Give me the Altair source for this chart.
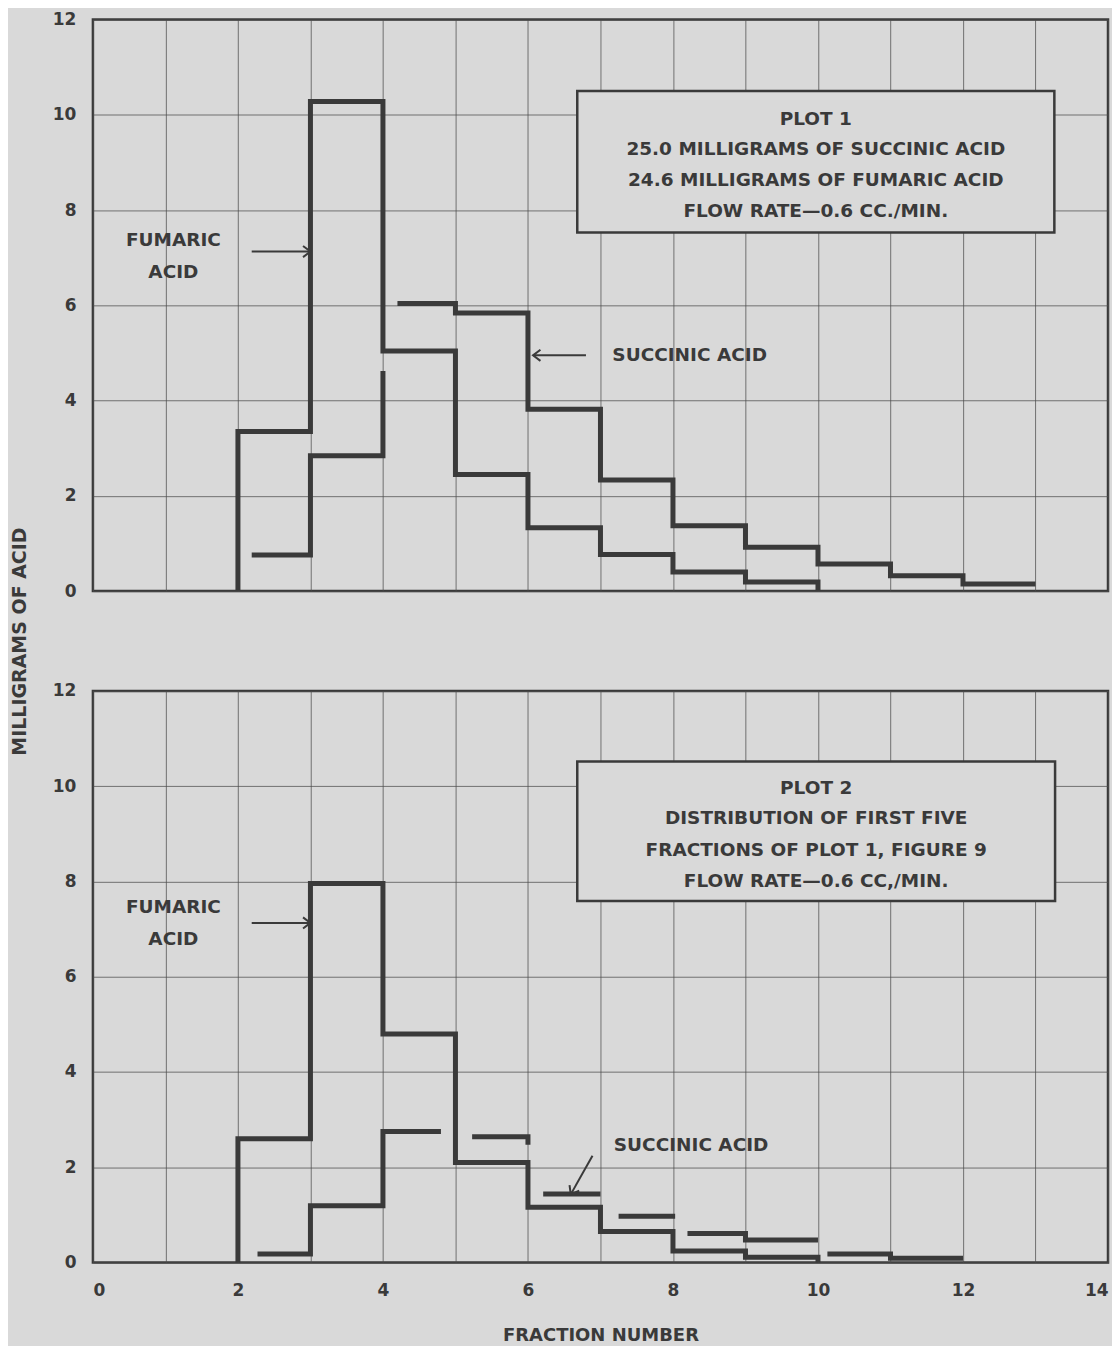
import math
import altair as alt
import pandas as pd

# ---------------- data ----------------
X_GRID_VALUES = list(range(0, 15))
Y_TICK_VALUES = [0, 2, 4, 6, 8, 10, 12]

# Plot 1 -- fumaric acid (fraction edges / mg per fraction)
P1_FUM_EDGES = [2, 3, 4, 5, 6, 7, 8, 9, 10]
P1_FUM_VALS = [3.35, 10.28, 5.04, 2.45, 1.33, 0.77, 0.40, 0.19]
# Plot 1 -- succinic acid, drawn in two pieces
P1_SUC_A_EDGES = [2.19, 3, 4]
P1_SUC_A_VALS = [0.76, 2.84]
P1_SUC_A_TAIL = 4.62
P1_SUC_B_EDGES = [4.2, 5, 6, 7, 8, 9, 10, 11, 12, 13]
P1_SUC_B_VALS = [6.04, 5.84, 3.82, 2.33, 1.37, 0.92, 0.57, 0.32, 0.15]

# Plot 2 -- fumaric acid
P2_FUM_EDGES = [2, 3, 4, 5, 6, 7, 8, 9, 10]
P2_FUM_VALS = [2.60, 7.96, 4.80, 2.10, 1.16, 0.65, 0.24, 0.11]
# Plot 2 -- succinic acid, broken pieces
P2_SUC_PIECE_EDGES = [[2.27, 3, 4, 4.8], [5.23, 6], [6.21, 7.0], [7.25, 8.03],
                      [8.2, 9, 10], [10.13, 11, 12]]
P2_SUC_PIECE_VALS = [[0.18, 1.19, 2.75], [2.64], [1.44], [0.97],
                     [0.61, 0.47], [0.18, 0.09]]
P2_SUC_PIECE_TAILS = [None, 2.47, None, None, None, None]

# Text
P1_BOX_LINES = ["PLOT 1", "25.0 MILLIGRAMS OF SUCCINIC ACID",
                "24.6 MILLIGRAMS OF FUMARIC ACID", "FLOW RATE—0.6 CC./MIN."]
P2_BOX_LINES = ["PLOT 2", "DISTRIBUTION OF FIRST FIVE",
                "FRACTIONS OF PLOT 1, FIGURE 9", "FLOW RATE—0.6 CC,/MIN."]
P1_BOX_LINE_Y = [9.92, 9.29, 8.64, 7.99]
P2_BOX_LINE_Y = [9.96, 9.33, 8.66, 8.01]
P1_BOX = dict(x=6.68, x2=13.26, y=7.53, y2=10.5)
P2_BOX = dict(x=6.68, x2=13.27, y=7.59, y2=10.52)

FUM_LABEL = ["FUMARIC", "ACID"]
FUM_LABEL_X = 1.11
P1_FUM_LABEL_Y = [7.38, 6.71]
P2_FUM_LABEL_Y = [7.46, 6.79]
SUC_LABEL = "SUCCINIC ACID"
P1_SUC_LABEL_XY = (8.23, 4.95)
P2_SUC_LABEL_XY = (8.25, 2.47)

# arrows: (x_from, y_from, x_to, y_to)
P1_ARROWS = [(2.19, 7.13, 3.0, 7.13), (6.80, 4.95, 6.07, 4.95)]
P2_ARROWS = [(2.19, 7.13, 3.0, 7.13), (6.89, 2.24, 6.59, 1.43)]

# ---------------- styling ----------------
BG = "#d9d9d9"
INK = "#3a3a3a"
FONT = "DejaVu Sans"
PW, PH = 1016, 572
XDOM, YDOM = [0, 14], [0, 12]


def steps(edges, vals, head=None, tail=None):
    pts = []
    if head is not None:
        pts.append((edges[0], head))
    for i, v in enumerate(vals):
        pts.append((edges[i], v))
        pts.append((edges[i + 1], v))
    if tail is not None:
        pts.append((edges[-1], tail))
    return pts


def line_frame(pieces):
    rows = []
    for pid, pts in enumerate(pieces):
        for k, (x, y) in enumerate(pts):
            rows.append({"piece": pid, "order": k, "x": x, "y": y})
    return pd.DataFrame(rows)


p1_lines = line_frame([
    steps(P1_FUM_EDGES, P1_FUM_VALS, head=0, tail=0),
    steps(P1_SUC_A_EDGES, P1_SUC_A_VALS, tail=P1_SUC_A_TAIL),
    steps(P1_SUC_B_EDGES, P1_SUC_B_VALS),
])
p2_pieces = [steps(P2_FUM_EDGES, P2_FUM_VALS, head=0, tail=0)]
for e, v, t in zip(P2_SUC_PIECE_EDGES, P2_SUC_PIECE_VALS, P2_SUC_PIECE_TAILS):
    p2_pieces.append(steps(e, v, tail=t))
p2_lines = line_frame(p2_pieces)

xs = alt.Scale(domain=XDOM, nice=False, zero=False)
ys = alt.Scale(domain=YDOM, nice=False, zero=False)

PX_PER_X = PW / (XDOM[1] - XDOM[0])
PX_PER_Y = PH / (YDOM[1] - YDOM[0])


def panel(lines, box, box_lines, box_y, fum_y, suc_xy, arrows, bottom):
    x_axis = alt.Axis(values=X_GRID_VALUES, grid=True, ticks=False, domain=False,
                      labels=bottom,
                      labelExpr="datum.value % 2 == 0 ? datum.label : ''",
                      title="FRACTION NUMBER" if bottom else None,
                      labelPadding=20, titlePadding=28)
    if bottom:
        y_axis = alt.Axis(values=Y_TICK_VALUES, grid=True, ticks=False, domain=False,
                          labelPadding=17, title=None)
    else:
        y_axis = alt.Axis(values=Y_TICK_VALUES, grid=True, ticks=False, domain=False,
                          labelPadding=17, title="MILLIGRAMS OF ACID",
                          titleAngle=270, titleX=-63, titleY=622,
                          titleBaseline="bottom", titleFontSize=19)

    def X(f):
        return alt.X(f, scale=xs, axis=x_axis)

    def Y(f):
        return alt.Y(f, scale=ys, axis=y_axis)

    steps_layer = alt.Chart(lines).mark_line(
        color=INK, strokeWidth=5, strokeCap="butt", strokeJoin="miter"
    ).encode(
        x=X("x:Q"), y=Y("y:Q"),
        detail="piece:N",
        order="order:Q",
    )

    box_df = pd.DataFrame([box])
    box_layer = alt.Chart(box_df).mark_rect(
        fill=BG, stroke=INK, strokeWidth=2.5
    ).encode(x=X("x:Q"), x2="x2:Q", y=Y("y:Q"), y2="y2:Q")

    box_text_df = pd.DataFrame({
        "t": box_lines, "y": box_y,
        "x": [(box["x"] + box["x2"]) / 2] * len(box_lines),
    })
    box_text = alt.Chart(box_text_df).mark_text(
        font=FONT, fontSize=18.5, fontWeight="bold", color=INK,
        align="center", baseline="middle"
    ).encode(x=X("x:Q"), y=Y("y:Q"), text="t:N")

    lab_df = pd.DataFrame({
        "t": FUM_LABEL + [SUC_LABEL],
        "x": [FUM_LABEL_X, FUM_LABEL_X, suc_xy[0]],
        "y": list(fum_y) + [suc_xy[1]],
    })
    labels = alt.Chart(lab_df).mark_text(
        font=FONT, fontSize=18.5, fontWeight="bold", color=INK,
        align="center", baseline="middle"
    ).encode(x=X("x:Q"), y=Y("y:Q"), text="t:N")

    arr_rows = []
    for (x0, y0, x1, y1) in arrows:
        ang = math.degrees(math.atan2(-(y1 - y0) * PX_PER_Y, (x1 - x0) * PX_PER_X))
        arr_rows.append({"x": x0, "y": y0, "x2": x1, "y2": y1, "ang": ang % 360})
    arr_df = pd.DataFrame(arr_rows)
    shafts = alt.Chart(arr_df).mark_rule(color=INK, strokeWidth=2).encode(
        x=X("x:Q"), x2="x2:Q", y=Y("y:Q"), y2="y2:Q",
    )
    heads = alt.Chart(arr_df).mark_point(
        shape="M -1 -0.75 L 0 0 L -1 0.75", filled=False, color=INK,
        strokeWidth=2, size=220, opacity=1
    ).encode(
        x=X("x2:Q"), y=Y("y2:Q"),
        angle=alt.Angle("ang:Q", scale=None),
    )

    return alt.layer(steps_layer, box_layer, box_text, labels, shafts, heads).properties(
        width=PW, height=PH
    )


top = panel(p1_lines, P1_BOX, P1_BOX_LINES, P1_BOX_LINE_Y, P1_FUM_LABEL_Y,
            P1_SUC_LABEL_XY, P1_ARROWS, bottom=False)
bottom = panel(p2_lines, P2_BOX, P2_BOX_LINES, P2_BOX_LINE_Y, P2_FUM_LABEL_Y,
               P2_SUC_LABEL_XY, P2_ARROWS, bottom=True)

chart = alt.vconcat(top, bottom, spacing=100, bounds="flush").properties(
    padding={"left": 1, "top": 0, "right": 2, "bottom": 2}
).configure(
    background=BG
).configure_view(
    fill=BG, stroke=INK, strokeWidth=2.5
).configure_axis(
    gridColor="#4d4d4d", gridWidth=1, gridOpacity=0.75,
    labelFont=FONT, labelFontSize=17, labelFontWeight="bold", labelColor=INK,
    titleFont=FONT, titleFontSize=18, titleFontWeight="bold", titleColor=INK,
)

chart.save("out.html", embed_options={"renderer": "svg", "actions": False})
